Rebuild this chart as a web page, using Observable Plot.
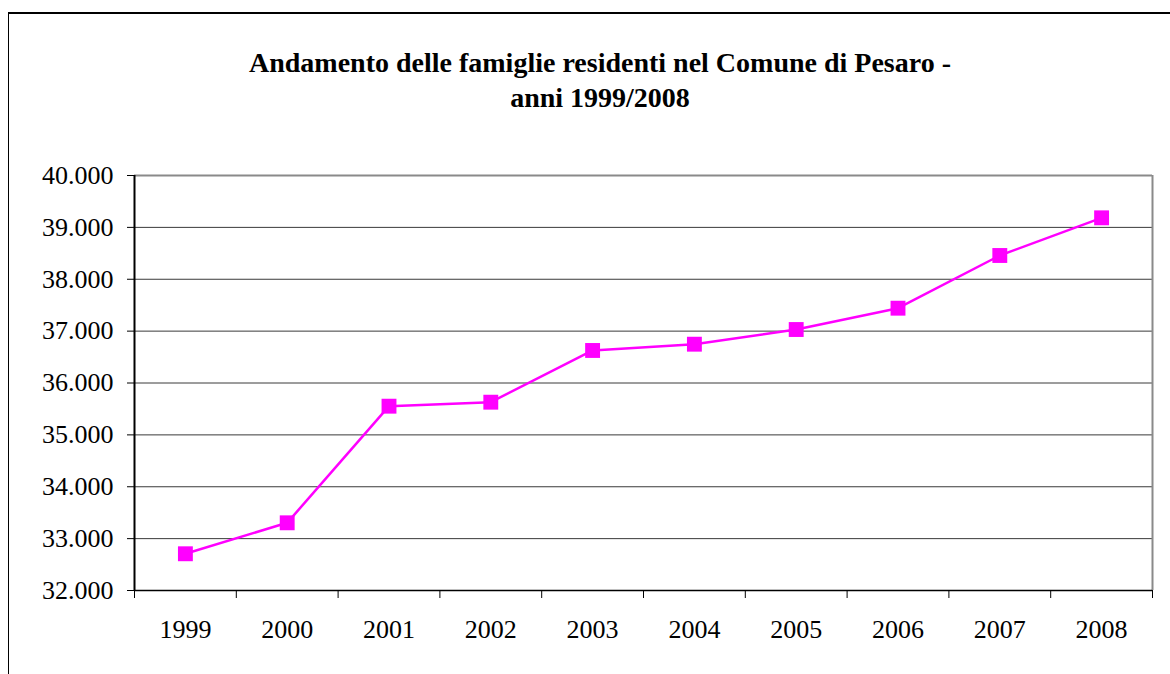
<!DOCTYPE html>
<html>
<head>
<meta charset="utf-8">
<script src="https://cdn.jsdelivr.net/npm/d3@7"></script>
<script src="https://cdn.jsdelivr.net/npm/@observablehq/plot@0.6"></script>
<style>
  html, body { margin: 0; padding: 0; background: #fff; }
  #wrap { position: relative; width: 1170px; height: 674px; overflow: hidden; }
  #frame { position: absolute; left: 8px; top: 12px; width: 1300px; height: 800px;
           border-left: 1.5px solid #000; border-top: 2px solid #000; box-sizing: border-box; pointer-events: none; }
  #title { box-sizing: border-box; height: 130px; padding-top: 45px; padding-left: 30px;
           text-align: center; font-family: "Liberation Serif", "Times New Roman", serif;
           font-weight: bold; font-size: 28px; line-height: 35px; color: #000; }
  #chart svg { display: block; }
</style>
</head>
<body>
<div id="wrap">
  <div id="frame"></div>
  <div id="title">Andamento delle famiglie residenti nel Comune di Pesaro -<br>anni 1999/2008</div>
  <div id="chart"></div>
</div>
<script>
const years = [1999, 2000, 2001, 2002, 2003, 2004, 2005, 2006, 2007, 2008];
const families = [32708, 33305, 35553, 35630, 36627, 36748, 37031, 37442, 38458, 39184];
const yTicks = [32000, 33000, 34000, 35000, 36000, 37000, 38000, 39000, 40000];
const boundaries = [1998.5, 1999.5, 2000.5, 2001.5, 2002.5, 2003.5, 2004.5, 2005.5, 2006.5, 2007.5, 2008.5];

const data = years.map((y, i) => ({year: y, value: families[i]}));
const itFormat = d3.formatLocale({decimal: ",", thousands: ".", grouping: [3], currency: ["", " €"]}).format(",");

const chart = Plot.plot({
  width: 1170,
  height: 544,
  marginTop: 45,
  marginLeft: 134,
  marginRight: 18,
  marginBottom: 84,
  x: {type: "linear", domain: [1998.5, 2008.5]},
  y: {domain: [32000, 40000]},
  style: {fontFamily: "'Liberation Serif', 'Times New Roman', serif", fontSize: "26px", color: "#000", background: "transparent", overflow: "visible"},
  marks: [
    Plot.ruleY(yTicks.slice(1, -1), {stroke: "#3a3a3a", strokeWidth: 1}),
    Plot.ruleY([40000], {stroke: "#8a8a8a", strokeWidth: 2}),
    Plot.ruleX([2008.5], {stroke: "#8a8a8a", strokeWidth: 2}),
    Plot.ruleY([32000], {stroke: "#000", strokeWidth: 1.5}),
    Plot.ruleX([1998.5], {stroke: "#000", strokeWidth: 2}),
    Plot.axisY({ticks: yTicks, tickSize: 7, tickPadding: 14, tickFormat: itFormat, label: null, fontSize: 26, fontFamily: "Liberation Serif"}),
    Plot.axisX({ticks: boundaries, tickSize: 8, tickFormat: () => "", label: null}),
    Plot.axisX({ticks: years, tickSize: 0, tickPadding: 29, tickFormat: d => String(d), label: null, fontSize: 26, fontFamily: "Liberation Serif"}),
    Plot.line(data, {x: "year", y: "value", stroke: "#ff00ff", strokeWidth: 2.5}),
    Plot.dot(data, {x: "year", y: "value", symbol: "square", r: 8.4, fill: "#ff00ff", stroke: "none"})
  ]
});
document.getElementById("chart").appendChild(chart);
</script>
</body>
</html>
